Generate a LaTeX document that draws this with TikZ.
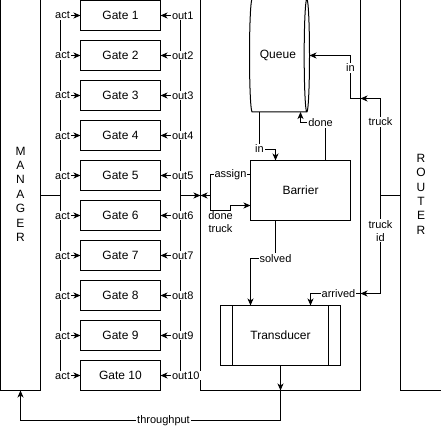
\documentclass[tikz,border=0pt]{standalone}
\usepackage{fontspec}
\setmainfont{Liberation Sans}
\usetikzlibrary{positioning, shapes.geometric, arrows.meta}

\begin{document}
\begin{tikzpicture}[
      >={Stealth[length=7pt,width=6pt,inset=2pt]},x=1pt,y=1pt,
      line width=1pt,
      box/.style={rectangle,draw,inner sep=0pt,outer sep=0pt,font=\fontsize{12}{14.4}\selectfont},
      gate/.style={box,minimum width=80pt,minimum height=30pt},
      lbl/.style={fill=white,inner sep=1pt,font=\fontsize{11}{13}\selectfont}
    ]
    \useasboundingbox (0,0) rectangle (441,-430);

    % side blocks
    \node[box,minimum width=40pt,minimum height=392.5pt,align=center] (manager) at (20.5,-194.25) {M\\A\\N\\A\\G\\E\\R};
    \node[box,minimum width=160pt,minimum height=392.5pt] (core) at (280.5,-194.25) {};
    \node[box,minimum width=41pt,minimum height=392.5pt,align=center] (router) at (421,-194.25) {R\\O\\U\\T\\E\\R};

    % gates
    \foreach \i in {1,...,10}
      \node[gate] (g\i) at (120.5,{-40*(\i-1)-15.5}) {Gate \i};

    % inner blocks
    \node[box,cylinder,aspect=0.5,minimum width=113pt,minimum height=60pt,anchor=shape center] (queue) at (279.5,-55.5) {Queue};
    \node[box,minimum width=100pt,minimum height=60pt] (barrier) at (300.5,-190.5) {Barrier};
    \node[box,minimum width=120pt,minimum height=60pt] (trans) at (280.5,-335.5) {Transducer};
    \draw ([xshift=12pt]trans.north west) -- ([xshift=12pt]trans.south west)
          ([xshift=-12pt]trans.north east) -- ([xshift=-12pt]trans.south east);

    % buses
    \coordinate (actbus) at (60.5,-195.5);
    \coordinate (outbus) at (180.5,-195.5);
    \coordinate (split) at (210.5,-195.5);
    \coordinate (rsplit) at (380.5,-195.5);
    \draw (g1.west -| actbus) -- (g10.west -| actbus);
    \draw (manager.east |- actbus) -- (actbus);
    \draw (g1.east -| outbus) -- (g10.east -| outbus);
    \foreach \i in {1,...,10} {
      \draw[->] (g\i.west -| actbus) -- node[lbl,pos=0.1]{act} (g\i.west);
      \draw[->] (g\i.east -| outbus) -- node[lbl,pos=0.5,anchor=west]{out\i} (g\i.east);
    }

    \draw[->] (outbus) -- (core.west |- outbus);
    \draw[->] ([yshift=16pt]barrier.west) -- node[lbl]{assign} +(-40,0) |- (core.west |- split);
    \draw[->] (split) |- node[pos=0.75,below,inner sep=1pt,align=center,font=\fontsize{11}{13}\selectfont]{done\\truck} (230.5,-210.5) |- ([yshift=-15pt]barrier.west);

    \draw[->] (259.5,-55.5 |- queue.south) -- +(0,-37) node[lbl]{in} -| ([xshift=-25pt]barrier.north);
    \draw[->] ([xshift=25pt]barrier.north) |- node[lbl,pos=0.6]{done} (300.5,-122.5) -- (300.5,-122.5 |- queue.south);

    \draw (router.west |- rsplit) -- (rsplit);
    \draw[->] (rsplit) |- node[lbl,pos=0.38]{truck} (core.east |- 0,-98.5);
    \draw[->] (core.east |- 0,-98.5) -- (350.5,-98.5) |- node[lbl,pos=0.36]{in} (queue.east);
    \draw[->] (rsplit) |- node[lbl,pos=0.18,align=center]{truck\\id} (core.east |- 0,-293.5);
    \draw[->] (core.east |- 0,-293.5) -| node[lbl,pos=0.22]{arrived} ([xshift=30pt]trans.north);

    \draw[->] ([xshift=-25pt]barrier.south) -- +(0,-38) node[lbl]{solved} -| ([xshift=-30pt]trans.north);
    \draw[->] (trans.south) -- (trans.south |- core.south);
    \draw[->] (trans.south |- core.south) |- node[lbl,pos=0.725]{throughput} (manager.south |- 0,-420.5) -- (manager.south);
  \end{tikzpicture}
\end{document}
